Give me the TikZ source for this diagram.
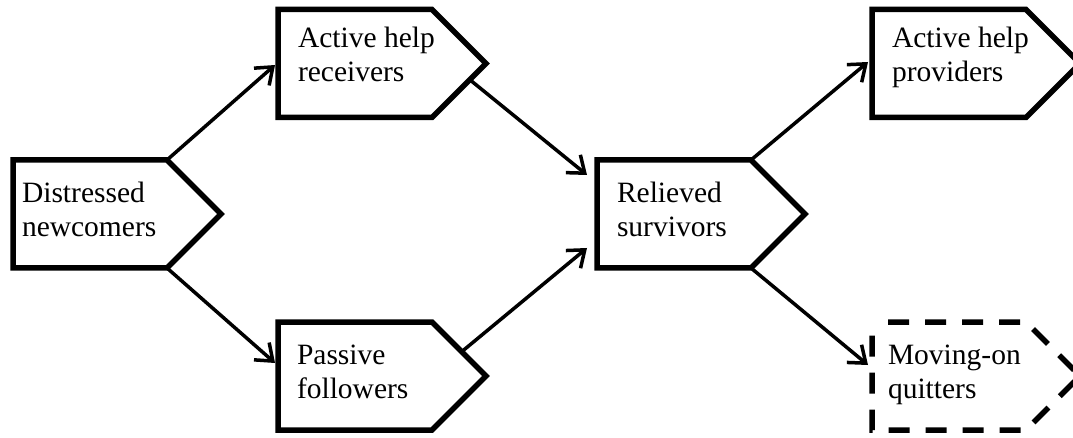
\documentclass[tikz,border=0pt]{standalone}
\usepackage{fontspec}
\setmainfont{Liberation Serif}
\usetikzlibrary{arrows.meta,calc}
\tikzset{
  boxshape/.style={rectangle, minimum width=208pt, minimum height=108pt, inner sep=0pt, outer sep=0pt},
  outline/.style={line width=5.5pt, line join=miter},
  dashedline/.style={outline, dash pattern=on 21pt off 16pt, dash phase=21pt},
  lbl/.style={anchor=base west, inner sep=0pt, outer sep=0pt, align=left, font=\fontsize{29.5}{34}\selectfont},
  flow/.style={line width=3.5pt, -{Straight Barb[length=15pt,width=23pt]}},
}
\begin{document}
\begin{tikzpicture}[x=1pt,y=-1pt]
\useasboundingbox (0,0) rectangle (1073,438);
\clip (0,0) rectangle (1073,438);
% boxes
\node[boxshape] (dn) at (117,214) {};
\node[boxshape] (ar) at (382,63.5) {};
\node[boxshape] (pf) at (382,376) {};
\node[boxshape] (rs) at (701,214) {};
\node[boxshape] (ap) at (976,63.5) {};
\node[boxshape] (mq) at (976,376) {};
% labels (base = baseline of last line)
\node[lbl] (dnt) at ($(dn.north west)+(9,77)$) {Distressed\\newcomers};
\node[lbl] (art) at ($(ar.north west)+(20,72)$) {Active help\\receivers};
\node[lbl] (pft) at ($(pf.north west)+(19,76)$) {Passive\\followers};
\node[lbl] (rst) at ($(rs.north west)+(20,77)$) {Relieved\\survivors};
\node[lbl] (apt) at ($(ap.north west)+(20,72)$) {Active help\\providers};
\node[lbl] (mqt) at ($(mq.north west)+(16,76)$) {Moving-on\\quitters};
% outlines
\foreach \n in {dn,ar,pf,rs,ap}{
  \draw[outline] (\n.north west) -- ([xshift=-54pt]\n.north east) -- (\n.east)
    -- ([xshift=-54pt]\n.south east) -- (\n.south west) -- cycle;
}
\draw[dashedline] (mq.north west) -- ([xshift=-54pt]mq.north east) -- (mq.east)
    -- ([xshift=-54pt]mq.south east) -- (mq.south west) -- cycle;
% connectors
\draw[flow] ([xshift=-54pt]dn.north east) -- ([xshift=-3pt,yshift=-1.5pt]ar.west);
\draw[flow] ([xshift=-54pt]dn.south east) -- ([xshift=-3pt,yshift=13pt]pf.west);
\draw[flow] ($(ar.east)!0.3!([xshift=-54pt]ar.south east)$) -- ([xshift=-10pt,yshift=-15pt]rs.north west);
\draw[flow] ($(pf.east)!0.45!([xshift=-54pt]pf.north east)$) -- ([xshift=-10pt,yshift=20pt]rs.south west);
\draw[flow] ([xshift=-54pt]rs.north east) -- ([xshift=-4pt,yshift=1.5pt]ap.west);
\draw[flow] ([xshift=-54pt]rs.south east) -- ([xshift=-4pt,yshift=11pt]mq.west);
\end{tikzpicture}
\end{document}
